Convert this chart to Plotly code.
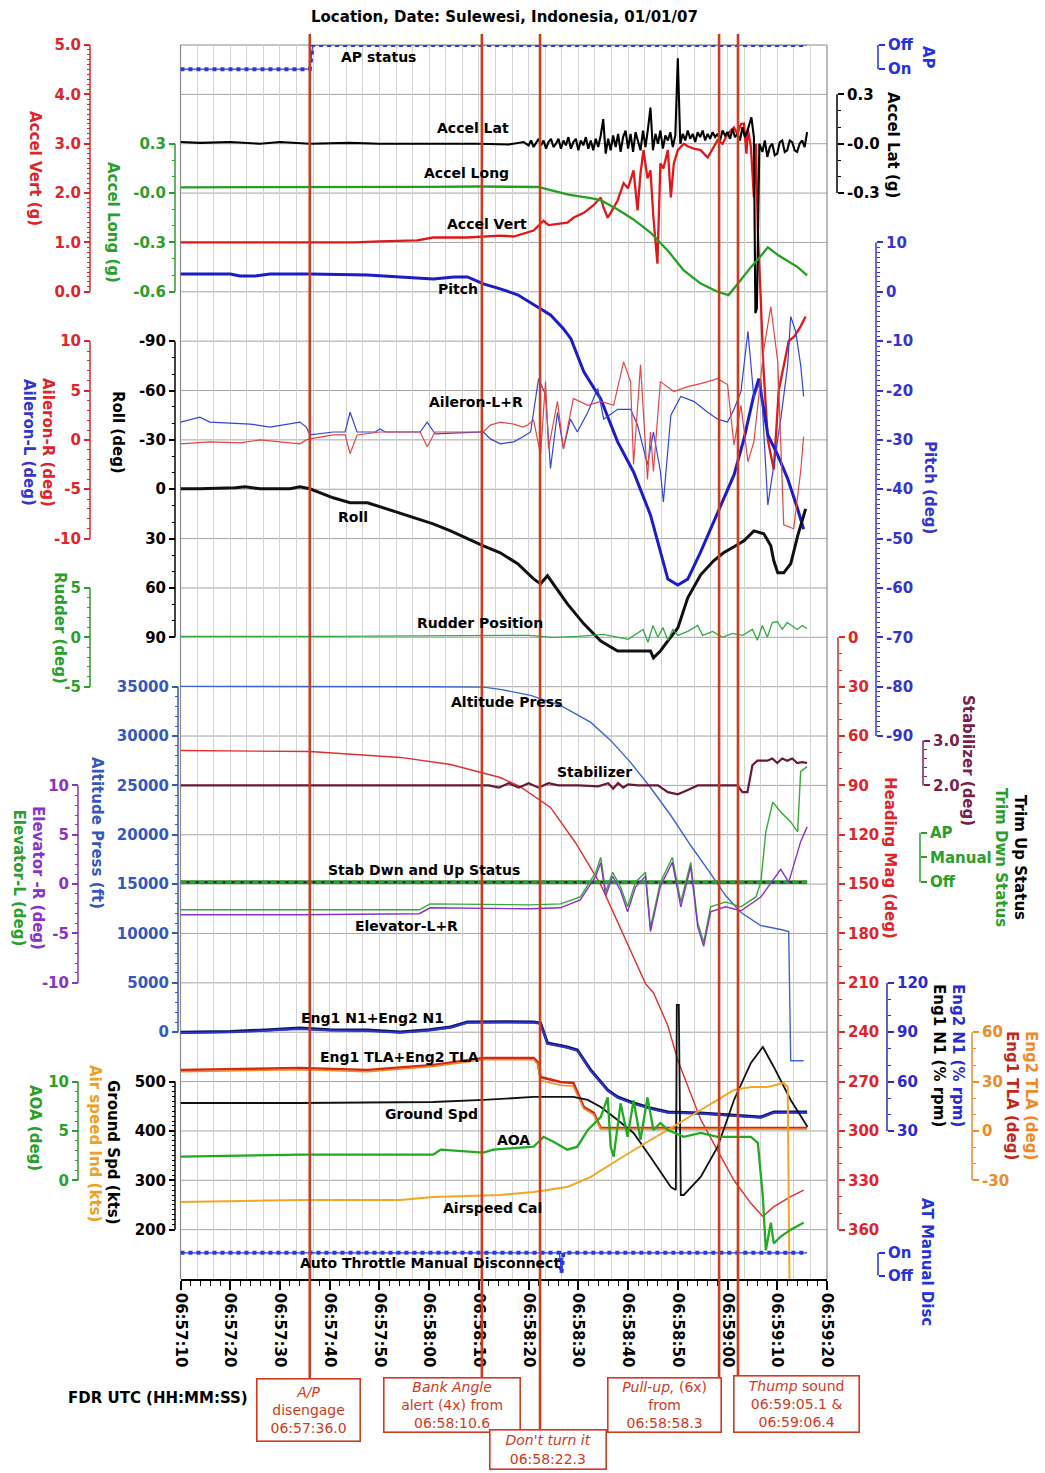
import numpy as np
import plotly.graph_objects as go

W, H = 1045, 1473

# ===================== DATA (time = seconds after 06:57:00 UTC) =====================
tick_secs = [10, 20, 30, 40, 50, 60, 70, 80, 90, 100, 110, 120, 130, 140]
tick_labels = ["06:57:10", "06:57:20", "06:57:30", "06:57:40", "06:57:50",
               "06:58:00", "06:58:10", "06:58:20", "06:58:30", "06:58:40",
               "06:58:50", "06:59:00", "06:59:10", "06:59:20"]

t_ap = [10, 36.0, 36.6, 136.0]
ap_status = [0, 0, 1, 1]

t_alat = [10, 14, 20, 26, 30, 36, 44, 50, 60, 70, 76, 79,
          80.0, 80.5, 81.0, 81.5, 82.0, 82.5, 83.0, 83.5, 84.0, 84.5,
          85.0, 85.5, 86.0, 86.5, 87.0, 87.5, 88.0, 88.5, 89.0, 89.5,
          90.0, 90.5, 91.0, 91.5, 92.0, 92.5, 93.0, 93.5, 94.0, 94.5,
          95.0, 95.5, 96.0, 96.5, 97.0, 97.5, 98.0, 98.5, 99.0, 99.5,
          100.0, 100.5, 101.0, 101.5, 102.0, 102.5, 103.0, 103.5, 104.0, 104.5,
          105.0, 105.5, 106.0, 106.5, 107.0, 107.5, 108.0, 108.5, 109.0, 109.5,
          110.0, 110.5, 111.0, 111.5, 112.0, 112.5, 113.0, 113.5, 114.0, 114.5,
          115.0, 115.5, 116.0, 116.5, 117.0, 117.5, 118.0, 118.5, 119.0, 119.5,
          120.0, 120.5, 121.0, 121.5, 122.0, 122.5, 123.0, 123.5, 124.0,
          124.8, 125.3, 125.6, 125.9, 126.4, 127.0, 127.5, 128.0, 128.5, 129.0, 129.5, 130.0,
          130.5, 131.0, 131.5, 132.0, 132.5, 133.0, 133.5, 134.0, 134.5, 135.0, 135.5, 136.0]
accel_lat = [0.01, 0.005, 0.01, 0.0, 0.01, 0.0, 0.005, 0.0, 0.0, 0.0, -0.005, 0.01,
             -0.01, 0.02, -0.02, 0.01, 0.03, -0.01, 0.02, -0.03, 0.01, 0.03,
             -0.02, 0.0, 0.03, -0.03, 0.02, -0.01, 0.04, -0.03, 0.01, 0.03,
             -0.04, 0.02, -0.01, 0.04, -0.03, 0.02, -0.04, 0.03, -0.02, 0.05,
             0.15, -0.06, 0.03, -0.04, 0.05, -0.02, 0.06, -0.05, 0.04, 0.08,
             -0.03, 0.06, -0.05, 0.07, 0.02, -0.04, 0.08, -0.02, 0.09, 0.22,
             -0.04, 0.06, 0.0, 0.08, -0.03, 0.05, 0.02, 0.07, -0.02, 0.05,
             0.52, 0.0, 0.06, 0.02, 0.08, 0.03, 0.06, 0.01, 0.07, 0.04,
             0.08, 0.02, 0.06, 0.03, 0.07, 0.04, 0.06, 0.02, 0.08, 0.05,
             0.07, 0.03, 0.09, 0.04, 0.06, 0.02, 0.10, 0.04, 0.08,
             0.16, 0.04, -1.03, -1.0, 0.0, -0.05, 0.02, -0.08, -0.02, 0.0, -0.07, -0.06,
             0.01, 0.02, -0.05, -0.04, 0.02, 0.01, -0.04, -0.05, 0.0, 0.02, -0.02, 0.07]

t_along = [10, 30, 50, 60, 70, 80, 82, 84.4, 88, 92.5, 94.5, 97.9, 101.1, 104.5, 108.0, 111.2, 114.6, 118.0,
           120.2, 122.1, 124.7, 126.5, 128.1, 130.3, 132.0, 134.1, 136.0]
accel_long = [0.035, 0.035, 0.035, 0.038, 0.04, 0.04, 0.037, 0.018, -0.01, -0.03, -0.043, -0.10, -0.16, -0.24, -0.35, -0.47, -0.55, -0.60,
              -0.62, -0.55, -0.45, -0.39, -0.33, -0.38, -0.41, -0.45, -0.50]

t_avert = [10, 30, 45, 50, 57.6, 60.8, 67.7, 74.3, 77.0, 81.0, 83.0, 84.0, 85.8, 87.8, 89.0, 91.1, 93.0, 94.5, 95.1, 95.9,
           96.5, 97.9, 99.1, 100.0, 101.1, 101.9, 102.5, 103.1, 103.9, 104.5, 105.1, 105.9, 106.5, 107.1, 108.0, 108.6, 109.2, 110.0, 111.2, 112.0,
           113.2, 114.6, 116.0, 117.0, 118.0, 119.0, 120.0, 121.3, 122.0, 122.7, 123.3, 123.8, 124.1, 124.7, 125.3, 125.7, 126.1, 126.7, 127.2, 128.1,
           129.3, 130.3, 131.3, 132.3, 133.5, 134.7, 135.7]
accel_vert = [1.0, 1.0, 1.0, 1.02, 1.04, 1.1, 1.1, 1.14, 1.12, 1.24, 1.44, 1.35, 1.38, 1.40, 1.5, 1.6, 1.75, 1.91, 1.7, 1.5,
              1.6, 1.85, 2.2, 2.1, 2.46, 1.65, 2.4, 2.87, 2.3, 2.46, 1.5, 0.57, 2.6, 2.5, 2.87, 1.91, 2.6, 2.87, 3.0, 2.95,
              2.9, 2.87, 2.72, 2.9, 3.07, 3.0, 3.2, 3.33, 3.2, 3.4, 3.41, 2.8, 3.3, 2.93, 1.91, 3.0, 1.2, -0.2, -1.5, -3.0,
              -3.6, -2.0, -1.5, -1.0, -0.9, -0.7, -0.5]

t_pitch = [10, 20, 22, 25, 28, 36, 47.6, 55, 60.8, 65, 67.7, 70.9, 74.3, 77.8, 81.0, 84.4, 87.0, 88.5, 91.1, 94.5,
           97.9, 101.1, 104.5, 108.0, 110.0, 112.0, 114.6, 118.0, 121.3, 123.3, 125.3, 126.3, 128.1, 130.1, 132.1, 134.1, 135.3]
pitch = [3.6, 3.6, 3.2, 3.2, 3.6, 3.6, 3.4, 3.0, 2.6, 3.0, 3.0, 1.6, 0.6, -0.6, -2.6, -4.7, -7.5, -9.5, -16.2, -21.7,
         -30.4, -36.5, -45.2, -58.2, -59.4, -58.2, -52.7, -44.6, -37.1, -29.8, -20.9, -17.6, -29.0, -33.1, -37.9, -44.0, -48.1]

t_ail_l = [10, 13.9, 15.9, 24, 28, 32, 34, 35.3, 36, 40.7, 43.1, 44.1, 45.5, 49.2, 50.1, 51.2, 58.2, 59.6, 61.2, 70.9,
           72.3, 74.3, 77.0, 78.8, 80.4, 82.0, 83.4, 84.4, 85.8, 87.0, 88.4, 89.8, 91.9, 93.9, 95.1, 97.9, 100.5, 101.9, 103.9, 105.1,
           106.5, 107.1, 108.6, 110.6, 113.2, 116.0, 118.0, 120.0, 121.3, 122.7, 124.1, 125.3, 126.7, 128.1, 129.3, 130.7, 132.1, 132.7, 133.7, 134.7,
           135.3]
aileron_l = [1.8, 2.3, 1.8, 1.6, 1.3, 1.6, 1.8, 1.3, 0.5, 0.8, 0.8, 2.8, 0.8, 0.8, 1.1, 0.8, 0.8, 1.8, 0.6, 0.8,
             0.1, -0.4, -0.2, 0.3, 0.8, 6.2, 4.6, -2.9, 2.8, -0.9, 2.1, 0.8, 2.8, 5.2, 2.1, 3.1, 3.1, 1.5, -2.5, 0.8,
             -3.2, -6.3, 2.5, 4.4, 3.9, 2.8, 2.1, 1.8, 3.1, 4.9, 11.0, 4.2, 6.2, -6.6, -2.5, 2.1, 7.6, 12.5, 11.0, 7.6,
             4.4]

t_ail_r = [10, 15.9, 22, 26, 30, 34, 35.3, 36, 40.7, 43.1, 44.1, 45.5, 50.1, 58.2, 59.6, 61.2, 70.9, 72.3, 74.3, 77.0,
           78.8, 79.8, 81.0, 82.4, 83.4, 84.0, 85.8, 87.0, 89.0, 91.9, 94.5, 97.1, 99.1, 100.5, 101.1, 102.5, 103.9, 104.5, 105.1, 106.5,
           109.2, 112.0, 114.6, 118.0, 120.0, 121.3, 122.7, 124.1, 125.3, 127.3, 128.7, 130.1, 131.3, 133.3, 134.7, 135.3]
aileron_r = [-0.4, -0.2, -0.3, 0.0, -0.2, -0.4, 0.0, 0.1, 0.5, 0.5, -1.4, 0.5, 0.8, 0.8, -0.7, 0.8, 0.8, 1.5, 1.8, 1.6,
             1.3, 1.5, 2.0, -1.5, 5.9, -0.9, 3.9, -0.9, 4.2, 3.5, 3.9, 3.5, 7.9, 5.9, -2.5, 7.6, -4.0, 0.8, -3.2, 5.9,
             4.9, 5.4, 5.7, 6.2, 5.6, -0.5, 3.5, -2.2, -0.2, 9.2, 13.5, 7.9, -8.6, -9.0, -3.2, 0.3]

t_roll = [10, 13.9, 21, 23, 26, 32, 34, 36, 40.7, 44.1, 47.6, 50.8, 54.2, 57.6, 60.8, 64.3, 67.7, 70.9, 74.3, 77.8,
          81.0, 82.4, 83.8, 85.0, 87.8, 91.1, 94.5, 97.9, 101.1, 104.5, 105.1, 106.5, 108.0, 110.0, 112.0, 114.6, 117.2, 119.2, 121.3, 123.3,
          125.3, 127.3, 128.7, 129.3, 130.1, 131.3, 132.7, 134.1, 135.7]
roll = [-0.3, -0.3, -0.9, -1.5, -0.3, -0.3, -1.5, -0.3, 5.2, 8.2, 8.2, 11.3, 14.3, 18.0, 21.0, 25.3, 30.1, 34.4, 38.6, 45.3,
        54.5, 57.5, 52.6, 57.5, 69.7, 81.8, 92.2, 98.3, 98.3, 98.3, 102.5, 98.3, 92.2, 84.3, 66.0, 52.0, 43.5, 38.6, 35.0, 31.3,
        25.3, 27.1, 34.4, 43.5, 50.8, 50.8, 45.3, 28.3, 11.9]

t_rud = [10, 40, 80, 85, 90, 95, 100, 103, 104, 105, 106, 107, 108, 109, 110, 112, 114, 115, 117, 119,
         121, 123, 125, 126, 127, 128, 129, 130, 131, 132, 134, 135, 136]
rudder = [0.1, 0.1, 0.2, 0.0, 0.1, 0.3, -0.2, 0.8, -0.5, 1.2, 0.0, 1.0, -0.3, 0.8, 0.2, 0.6, 1.2, 0.2, 0.6, 0.0,
          0.4, 0.2, 0.8, -0.3, 1.2, 0.0, 1.5, 1.6, 0.8, 1.5, 0.8, 1.2, 0.9]

t_hdg = [10, 36, 54.2, 64.3, 74.3, 78.3, 84.4, 89.4, 94.5, 98.9, 103.5, 105.1, 108.0, 110.0, 112.0, 114.6, 118.0, 121.3, 124.7, 127.1,
         129.3, 132.7, 135.3]
heading = [68.8, 69.4, 73.0, 77.3, 85.2, 90.7, 103.4, 124.7, 150.3, 180.1, 210.5, 216.0, 236.0, 257.0, 273.0, 293.0, 312.0, 330.0, 344.0, 352.0,
           346.0, 340.0, 336.0]

t_alt = [10, 40, 60, 70.9, 74.3, 80.4, 86.4, 92.5, 96.5, 100.5, 104.5, 108.6, 112.6, 116.6, 119.6, 122.7, 126.7, 130.7, 132.3, 132.7, 135.3]
altitude = [35030, 35030, 35000, 34950, 34730, 34120, 33110, 31380, 29560, 27330, 24790, 21950, 18910, 16070, 13840, 12120, 10800, 10400, 10200,
            -2890, -2890]

t_stab = [10, 70, 72, 74, 76, 78, 80, 82, 84, 86, 90, 94, 96, 97, 98, 99, 100, 102, 106, 108,
          110, 112, 114, 120, 122, 123, 124, 125, 126, 128, 129, 130, 131, 132, 133, 134, 135, 136]
stabilizer = [2.0, 2.0, 2.0, 1.95, 2.05, 1.95, 2.05, 1.95, 2.05, 2.0, 2.0, 1.98, 2.05, 1.93, 2.05, 1.95, 2.02, 2.0, 2.0, 1.85,
              1.8, 1.9, 2.0, 2.0, 2.0, 1.85, 1.85, 2.45, 2.55, 2.55, 2.6, 2.5, 2.6, 2.55, 2.6, 2.5, 2.52, 2.5]

t_trim = [10, 136]
trim_up = [0, 0]
trim_dwn = [0, 0]

t_elev_l = [10, 34, 58, 60.2, 80.4, 86.4, 90.4, 93.5, 94.5, 95.5, 96.9, 98.5, 99.9, 101.5, 103.5, 104.5, 106.5, 108.9, 110.6, 112.6,
            114.0, 115.2, 116.6, 119.6, 122.7, 125.7, 126.7, 127.7, 129.1, 130.7, 132.7, 134.1, 134.7, 136.0]
elevator_l = [-2.6, -2.6, -2.6, -2.0, -2.1, -2.0, -1.3, 1.2, 2.7, -0.8, 1.2, -0.3, -2.3, 0.2, 1.2, -4.4, 0.2, 2.7, -1.8, 2.2,
              -3.9, -5.9, -2.3, -1.8, -2.3, -1.3, 0.2, 5.3, 8.3, 7.3, 6.3, 5.3, 11.4, 11.9]
t_elev_r = [10, 34, 58, 60.2, 80.4, 86.4, 90.4, 93.5, 94.5, 95.5, 96.9, 98.5, 99.9, 101.5, 103.5, 104.5, 106.5, 108.9, 110.6, 112.6,
            114.0, 115.2, 116.6, 119.6, 122.7, 126.7, 130.7, 132.3, 134.7, 136.0]
elevator_r = [-3.1, -3.1, -3.0, -2.4, -2.5, -2.4, -1.6, 0.8, 2.2, -1.2, 0.8, -0.7, -2.8, -0.3, 0.8, -4.8, -0.2, 2.2, -2.3, 1.8,
              -4.3, -6.3, -2.8, -2.3, -2.7, -1.3, 1.5, 0.2, 4.3, 5.8]

t_n1 = [10, 20, 28, 34, 40, 47.6, 54.2, 60, 64.3, 67.7, 75, 81.0, 82.4, 83.8, 87.8, 89.8, 92.5, 95.9, 97.9, 101.1,
        104.5, 108.0, 114.6, 121.3, 126.7, 129.3, 134.7, 136.0]
eng1_n1 = [90, 90.5, 91.5, 92.5, 91.5, 91.3, 90.1, 91.5, 93.2, 96.2, 96.4, 96.2, 95.6, 83.4, 81.0, 79.2, 67.0, 54.9, 50.6, 47.0,
           43.9, 41.5, 40.9, 39.7, 38.5, 41.5, 41.5, 41.5]
eng2_n1 = [89.5, 90.0, 91.0, 92.0, 91.0, 90.8, 89.6, 91.0, 92.7, 95.7, 95.9, 95.7, 95.1, 82.9, 80.5, 78.7, 66.5, 54.4, 50.1, 46.5,
           43.4, 41.0, 40.4, 39.2, 38.0, 41.0, 41.0, 41.0]

t_tla = [10, 34, 47.6, 60.8, 70.9, 81.0, 81.8, 82.4, 86.4, 89.0, 91.1, 93.1, 94.5, 101.1, 136.0]
eng1_tla = [37.0, 38.2, 37.0, 40.1, 44.3, 44.3, 41.9, 32.7, 29.7, 29.1, 14.5, 10.9, 1.8, 1.8, 1.8]
eng2_tla = [36.0, 37.2, 36.0, 39.1, 43.3, 43.3, 40.9, 30.7, 27.7, 27.1, 13.5, 9.9, 1.2, 1.2, 1.2]

t_gs = [10, 34, 60.8, 70.9, 81.0, 89.0, 91.9, 94.5, 97.9, 101.1, 104.5, 108.6, 109.6, 109.8, 110.2, 110.6, 111.2, 114.6, 118.0, 121.3,
        124.7, 127.1, 129.3, 132.7, 136.1]
ground_spd = [456.6, 456.6, 458.6, 462.7, 468.8, 468.8, 462.7, 448.5, 422.2, 395.8, 347.2, 286.4, 280.3, 655.2, 655.2, 270.2, 270.2, 306.7, 367.5, 462.7,
              537.7, 570.1, 529.6, 462.7, 408.0]

t_aoa = [10, 34, 60.8, 62.3, 70.9, 72.9, 81.0, 83.0, 85.0, 87.8, 89.8, 91.9, 94.5, 95.9, 96.5, 97.1, 98.5, 99.9, 101.1, 102.5,
         103.9, 105.1, 106.5, 108.0, 111.2, 114.6, 118.0, 121.3, 124.7, 126.1, 127.1, 127.7, 128.7, 129.3, 130.7, 132.7, 135.3]
aoa = [2.4, 2.6, 2.6, 3.1, 2.8, 3.1, 3.4, 4.4, 3.9, 3.1, 3.4, 5.1, 6.4, 8.4, 3.4, 2.4, 7.8, 4.4, 8.1, 4.1,
       8.4, 5.1, 5.8, 5.1, 4.4, 4.8, 4.4, 4.4, 4.4, 3.8, -1.7, -7.1, -4.3, -6.4, -5.7, -5.0, -4.3]

t_cas = [10, 34, 54.2, 60.8, 74.3, 81.0, 87.8, 92.5, 97.9, 101.1, 104.5, 108.0, 111.2, 114.6, 118.0, 121.3, 124.7, 128.1, 131.3, 132.1,
         132.3, 132.5]
airspeed = [256, 260.1, 260.1, 266.2, 270.3, 276.3, 286.4, 306.7, 341.1, 361.4, 381.6, 401.9, 422.2, 442.4, 462.7, 483.0, 489.0, 489.0, 497.2, 489.0,
            260.0, 50.0]

t_at = [10, 86.2, 86.6, 87.0, 136.0]
at_disc = [1, 1, 0.1, 1, 1]

event_times = [36.0, 70.6, 82.3, 118.3, 122.1]
event_texts = ["<i>A/P</i><br>disengage<br>06:57:36.0",
               "<i>Bank Angle</i><br>alert (4x) from<br>06:58:10.6",
               "<i>Don't turn it</i><br>06:58:22.3",
               "<i>Pull-up,</i> (6x)<br>from<br>06:58:58.3",
               "<i>Thump</i> sound<br>06:59:05.1 &amp;<br>06:59:06.4"]

# ===================== LAYOUT GEOMETRY =====================
FRAME_L, FRAME_R, FRAME_T, FRAME_B = 180.5, 827.0, 45.0, 1279.0
ROWS = 25
FONT = "DejaVu Sans"

RED = "#e0242a"
GREEN = "#2a9f2a"
PBLUE = "#3434d0"
APBLUE = "#2233dd"
ABLUE = "#3558c0"
PURPLE = "#8a32c8"
MAROON = "#7a1f4c"
ORANGE = "#f0892a"
NBLUE = "#2a2ad0"
GRID = "#a4a4a4"


def px_x(px):
    return px / W


def px_y(py):
    return 1 - py / H


# axis: value at reference row, value change per row downward, spine position, span
AXES = [
    dict(key="avert", ref=5.0, row=0, per=-1.0, pos=90, side="left", color=RED,
         major=[5, 4, 3, 2, 1, 0], text=["5.0", "4.0", "3.0", "2.0", "1.0", "0.0"], minor=0.1, span=(0, 5)),
    dict(key="ap", ref=1.0, row=0.0, per=-2.04, pos=878, side="right", color=APBLUE,
         major=[1, 0], text=["Off", "On"], minor=None, span=(0, 1)),
    dict(key="alat", ref=0.3, row=1, per=-0.3, pos=837, side="right", color="black",
         major=[0.3, 0.0, -0.3], text=["0.3", "-0.0", "-0.3"], minor=0.1, span=(-0.3, 0.3)),
    dict(key="along", ref=0.3, row=2, per=-0.3, pos=175, side="left", color=GREEN,
         major=[0.3, 0.0, -0.3, -0.6], text=["0.3", "-0.0", "-0.3", "-0.6"], minor=0.1, span=(-0.6, 0.3)),
    dict(key="pitch", ref=10, row=4, per=-10, pos=876, side="right", color=PBLUE,
         major=list(range(10, -100, -10)), text=None, minor=1, span=(-90, 10)),
    dict(key="ail", ref=10, row=6, per=-5, pos=90, side="left", color=RED,
         major=[10, 5, 0, -5, -10], text=None, minor=1, span=(-10, 10)),
    dict(key="roll", ref=-90, row=6, per=30, pos=175, side="left", color="black",
         major=list(range(-90, 91, 30)), text=None, minor=10, span=(-90, 90)),
    dict(key="rud", ref=5, row=11, per=-5, pos=90, side="left", color=GREEN,
         major=[5, 0, -5], text=None, minor=1, span=(-5, 5)),
    dict(key="hdg", ref=0, row=12, per=30, pos=838, side="right", color=RED,
         major=list(range(0, 361, 30)), text=None, minor=10, span=(0, 360)),
    dict(key="alt", ref=35000, row=13, per=-5000, pos=178, side="left", color=ABLUE,
         major=list(range(35000, -1, -5000)), text=None, minor=1000, span=(0, 35000)),
    dict(key="stab", ref=2.0, row=15, per=-1.1, pos=923, side="right", color=MAROON,
         major=[3.0, 2.0], text=["3.0", "2.0"], minor=0.2, span=(2.0, 3.0)),
    dict(key="trim", ref=0, row=16.96, per=-2.0, pos=920, side="right", color=GREEN,
         major=[2, 1, 0], text=["AP", "Manual", "Off"], minor=None, span=(0, 2)),
    dict(key="elev", ref=10, row=15, per=-5, pos=78, side="left", color=PURPLE,
         major=[10, 5, 0, -5, -10], text=None, minor=1, span=(-10, 10)),
    dict(key="n1", ref=120, row=19, per=-30, pos=887, side="right", color=NBLUE,
         major=[120, 90, 60, 30], text=None, minor=10, span=(30, 120)),
    dict(key="tla", ref=60, row=20, per=-30, pos=972, side="right", color=ORANGE,
         major=[60, 30, 0, -30], text=None, minor=10, span=(-30, 60)),
    dict(key="gs", ref=500, row=21, per=-100, pos=175, side="left", color="black",
         major=[500, 400, 300, 200], text=None, minor=10, span=(200, 500)),
    dict(key="aoa", ref=10, row=21, per=-5, pos=78, side="left", color=GREEN,
         major=[10, 5, 0], text=None, minor=1, span=(0, 10)),
    dict(key="at", ref=1, row=24.47, per=-2.17, pos=878, side="right", color=APBLUE,
         major=[1, 0], text=["On", "Off"], minor=None, span=(0, 1)),
]


def row_val(a, r):
    return a["ref"] + (r - a["row"]) * a["per"]


layout = dict(
    width=W, height=H, autosize=False,
    margin=dict(l=0, r=0, t=0, b=0, pad=0),
    paper_bgcolor="white", plot_bgcolor="white", showlegend=False,
    font=dict(family=FONT, size=14, color="black"),
    xaxis=dict(domain=[px_x(FRAME_L), px_x(FRAME_R)], range=[10, 140], anchor="y",
               tickmode="array", tickvals=tick_secs, ticktext=tick_labels, tickangle=90,
               ticks="outside", ticklen=9, tickwidth=1.5, tickcolor="black",
               tickfont=dict(family=FONT, size=15, color="black", weight="bold"),
               showgrid=True, gridcolor="#8f8f8f", gridwidth=1,
               minor=dict(tickmode="linear", tick0=10, dtick=2, ticks="outside", ticklen=5,
                          tickwidth=1.2, tickcolor="black", showgrid=False),
               showline=True, linecolor="black", linewidth=1.5, zeroline=False, fixedrange=True,
               automargin=False),
    xaxis2=dict(overlaying="x", range=[10, 140], anchor="y", showticklabels=False, ticks="",
                tickmode="linear", tick0=10, dtick=10 / 3, showgrid=True, gridcolor="#d2d2d2",
                gridwidth=1, zeroline=False, showline=False, fixedrange=True, automargin=False),
)

shapes = []
ax_id = {}
for i, a in enumerate(AXES):
    name = "yaxis" if i == 0 else f"yaxis{i + 1}"
    ax_id[a["key"]] = "y" if i == 0 else f"y{i + 1}"
    lo, hi = a["span"]
    text = [str(v) for v in a["major"]] if a["text"] is None else a["text"]
    ydict = dict(anchor="free", position=px_x(a["pos"]), side=a["side"],
                 range=[row_val(a, ROWS), row_val(a, 0)],
                 tickmode="array", tickvals=a["major"], ticktext=text,
                 ticks="outside", ticklen=6, tickwidth=1.5, tickcolor=a["color"],
                 tickfont=dict(family=FONT, size=15, color=a["color"], weight="bold"),
                 showgrid=False, zeroline=False, showline=False, fixedrange=True, automargin=False)
    if i == 0:
        ydict["domain"] = [px_y(FRAME_B), px_y(FRAME_T)]
    else:
        ydict["overlaying"] = "y"
    if a["minor"]:
        m = a["minor"]
        cnt = int(round((hi - lo) / m))
        ydict["minor"] = dict(tickmode="array", tickvals=[lo + k * m for k in range(cnt + 1)],
                              ticks="outside", ticklen=3, tickwidth=1, tickcolor=a["color"], showgrid=False)
    layout[name] = ydict
    shapes.append(dict(type="line", xref="paper", yref=ax_id[a["key"]], x0=px_x(a["pos"]), x1=px_x(a["pos"]),
                       y0=lo, y1=hi, line=dict(color=a["color"], width=1.5)))

# horizontal grid rows + frame (drawn below traces)
for r in range(1, ROWS):
    shapes.append(dict(type="line", xref="x domain", yref="y domain", x0=0, x1=1,
                       y0=1 - r / ROWS, y1=1 - r / ROWS, line=dict(color=GRID, width=1), layer="below"))
for (x0, x1, y0, y1) in [(0, 1, 1, 1), (0, 0, 0, 1), (1, 1, 0, 1)]:
    shapes.append(dict(type="line", xref="x domain", yref="y domain", x0=x0, x1=x1, y0=y0, y1=y1,
                       line=dict(color="#8a8a8a", width=1.2), layer="below"))

fig = go.Figure()


def add(t, v, key, color, width, dash="solid", xaxis="x", opacity=1.0):
    fig.add_trace(go.Scatter(x=t, y=v, xaxis=xaxis, yaxis=ax_id[key], mode="lines",
                             line=dict(color=color, width=width, dash=dash),
                             opacity=opacity, hoverinfo="skip"))


add(t_avert, accel_vert, "avert", "#e21818", 2.3)
add(t_ap, ap_status, "ap", "#2a3ae0", 4, "dot")
add(t_ap, ap_status, "ap", "#2a3ae0", 1.2)
add(t_alat, accel_lat, "alat", "black", 2.1)
add(t_along, accel_long, "along", "#22a022", 2.3)
add(t_pitch, pitch, "pitch", "#1c1cc8", 3)
add(t_ail_l, aileron_l, "ail", "#3344dd", 1.2)
add(t_ail_r, aileron_r, "ail", "#e84444", 1.2)
add(t_roll, roll, "roll", "#111111", 3)
add(t_rud, rudder, "rud", "#33aa44", 1.3)
add(t_hdg, heading, "hdg", "#e03030", 1.4)
add(t_alt, altitude, "alt", "#3a64d0", 1.4)
add(t_stab, stabilizer, "stab", "#6a1838", 2.2)
add(t_trim, trim_up, "trim", "#1a3a1a", 3.4)
add(t_trim, trim_dwn, "trim", "#22aa22", 3.4, "6px,3px")
add(t_elev_l, elevator_l, "elev", "#33aa33", 1.4)
add(t_elev_r, elevator_r, "elev", "#8a32c8", 1.4)
add(t_n1, eng1_n1, "n1", "#15155a", 3)
add(t_n1, eng2_n1, "n1", "#2a35d0", 2)
add(t_tla, eng1_tla, "tla", "#d52a12", 2.6)
add(t_tla, eng2_tla, "tla", "#f08a2a", 1.5)
add(t_gs, ground_spd, "gs", "#111111", 1.8)
add(t_aoa, aoa, "aoa", "#22aa22", 2.3)
add(t_cas, airspeed, "gs", "#f5a623", 2)
add(t_at, at_disc, "at", "#2a3ae0", 4, "dot", xaxis="x2")
add(t_at, at_disc, "at", "#2a3ae0", 1.2)

# event lines and boxes
EV_COLOR = "#d03a1e"
box_geo = [(308.5, 1410, 105, 64), (452, 1405, 138, 56), (548, 1449.5, 118, 41),
           (664.5, 1405, 115, 56), (796.5, 1404, 127, 58)]
box_top = [1378, 1377, 1429, 1377, 1375]
annotations = []
for t, txt, (cx, cy, bw, bh), bt in zip(event_times, event_texts, box_geo, box_top):
    shapes.append(dict(type="line", xref="x", yref="paper", x0=t, x1=t, y0=px_y(bt), y1=px_y(34),
                       line=dict(color=EV_COLOR, width=2.6), layer="above"))
    annotations.append(dict(text=txt, xref="paper", yref="paper", x=px_x(cx), y=px_y(cy),
                            xanchor="center", yanchor="middle", showarrow=False, align="center",
                            valign="middle", width=bw - 7, height=bh - 7,
                            font=dict(family=FONT, size=14, color=EV_COLOR),
                            bordercolor=EV_COLOR, borderwidth=1.6, borderpad=2, bgcolor="white"))

series_labels = [
    ("AP status", 378, 57), ("Accel Lat", 473, 128), ("Accel Long", 466, 173), ("Accel Vert", 487, 224),
    ("Pitch", 458, 289), ("Aileron-L+R", 476, 402), ("Roll", 353, 517), ("Rudder Position", 480, 623),
    ("Altitude Press", 507, 702), ("Stabilizer", 594, 772), ("Stab Dwn and Up Status", 424, 870),
    ("Elevator-L+R", 406, 926), ("Eng1 N1+Eng2 N1", 372, 1018), ("Eng1 TLA+Eng2 TLA", 399, 1057),
    ("Ground Spd", 431, 1114), ("AOA", 513, 1140), ("Airspeed Cal", 492, 1208),
    ("Auto Throttle Manual Disconnect", 430, 1263)]
for txt, x, y in series_labels:
    annotations.append(dict(text=txt, xref="paper", yref="paper", x=px_x(x), y=px_y(y),
                            xanchor="center", yanchor="middle", showarrow=False,
                            font=dict(family=FONT, size=14, color="black", weight="bold")))


def sp(t, c):
    return f'<span style="color:{c}">{t}</span>'


axis_titles = [
    (sp("Accel Vert (g)", RED), 35, 168),
    (sp("Accel Long (g)", GREEN), 113, 222),
    (sp("Aileron-R (deg)", RED) + "<br>" + sp("Aileron-L (deg)", PBLUE), 38, 442),
    (sp("Roll (deg)", "black"), 118, 432),
    (sp("Rudder (deg)", GREEN), 60, 628),
    (sp("Altitude Press (ft)", ABLUE), 97, 833),
    (sp("Elevator -R (deg)", PURPLE) + "<br>" + sp("Elevator-L (deg)", GREEN), 28, 878),
    (sp("Ground Spd (kts)", "black"), 113, 1152),
    (sp("Air speed Ind (kts)", "#f0a020"), 95, 1143),
    (sp("AOA (deg)", GREEN), 35, 1128),
    (sp("AP", APBLUE), 928, 57),
    (sp("Accel Lat (g)", "black"), 893, 145),
    (sp("Pitch (deg)", PBLUE), 930, 487),
    (sp("Heading Mag (deg)", RED), 890, 858),
    (sp("Stabilizer (deg)", MAROON), 968, 760),
    (sp("Trim Up Status", "black") + "<br>" + sp("Trim Dwn Status", GREEN), 1010, 857),
    (sp("Eng2 N1 (% rpm)", NBLUE) + "<br>" + sp("Eng1 N1 (% rpm)", "black"), 948, 1055),
    (sp("Eng2 TLA (deg)", ORANGE) + "<br>" + sp("Eng1 TLA (deg)", "#c0281a"), 1021, 1095),
    (sp("AT Manual Disc", APBLUE), 927, 1262),
]
for txt, x, y in axis_titles:
    annotations.append(dict(text=txt, xref="paper", yref="paper", x=px_x(x), y=px_y(y),
                            xanchor="center", yanchor="middle", showarrow=False, textangle=90,
                            font=dict(family=FONT, size=15, weight="bold")))

annotations.append(dict(text="Location, Date: Sulewesi, Indonesia, 01/01/07", xref="paper", yref="paper",
                        x=px_x(504), y=px_y(17), xanchor="center", yanchor="middle", showarrow=False,
                        font=dict(family=FONT, size=15, color="black", weight="bold")))
annotations.append(dict(text="FDR UTC (HH:MM:SS)", xref="paper", yref="paper",
                        x=px_x(158), y=px_y(1398), xanchor="center", yanchor="middle", showarrow=False,
                        font=dict(family=FONT, size=15, color="black", weight="bold")))

layout["shapes"] = shapes
layout["annotations"] = annotations
fig.update_layout(layout)

fig.write_html("out.html", config={"displayModeBar": False},
               post_script="document.body.style.margin='0px';document.body.style.overflow='hidden';")
